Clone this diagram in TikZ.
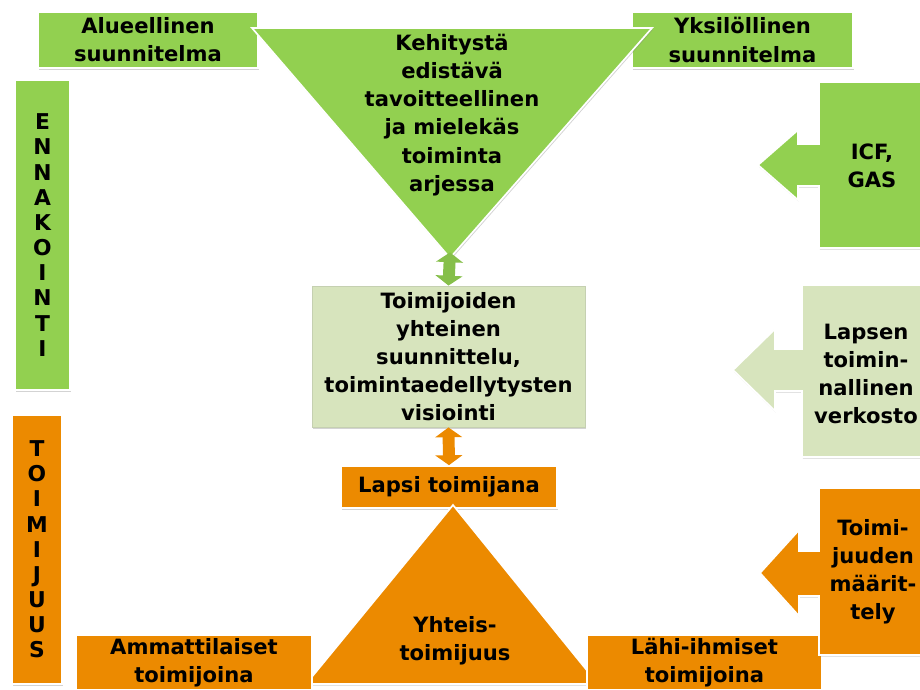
\documentclass[tikz,border=0pt]{standalone}
\usepackage{fontspec}
\setmainfont{DejaVu Sans}
\usetikzlibrary{arrows.meta,shadows}

\definecolor{ennagreen}{RGB}{146,208,80}
\definecolor{palegreen}{RGB}{215,228,189}
\definecolor{toimorange}{RGB}{236,138,0}

\tikzset{
  txt/.style={font=\bfseries\fontsize{15}{20}\selectfont, align=center, text=black},
  box/.style={txt, draw=white, line width=1.2pt, inner sep=0pt,
    drop shadow={shadow xshift=0.6pt, shadow yshift=-1.2pt, opacity=0.35}},
  letters/.style={font=\bfseries\fontsize{15.5}{17.9}\selectfont},
  blockshape/.style={draw=white, line width=1.2pt,
    drop shadow={shadow xshift=0.6pt, shadow yshift=-1.2pt, opacity=0.35}},
  twoway/.style={line width=8.5pt,
    {Triangle[width=19pt,length=7pt]}-{Triangle[width=19pt,length=7pt]}},
}

\begin{document}
\begin{tikzpicture}[x=0.025cm, y=-0.025cm]
  \useasboundingbox (0,0) rectangle (920,690);
  \clip (0,0) rectangle (920,690);

  % upper half: ennakointi
  \node[box, fill=ennagreen, minimum width=5.5cm, minimum height=1.4cm] (alue) at (148,40) {Alueellinen\\suunnitelma};
  \node[box, fill=ennagreen, minimum width=5.525cm, minimum height=1.4cm] (yksi) at (742.5,40) {Yksilöllinen\\suunnitelma};
  \node[box, fill=ennagreen, minimum width=1.375cm, minimum height=7.75cm, letters] (ennak) at (42.5,235) {E\\N\\N\\A\\K\\O\\I\\N\\T\\I};

  \coordinate (gleft) at (252,28);
  \coordinate (gright) at (652,28);
  \coordinate (gapex) at (450,258);
  \fill[blockshape, fill=ennagreen] (gleft) -- (gright) -- (gapex) -- cycle;
  \node[txt] (goal) at (452,115) {Kehitystä\\edistävä\\tavoitteellinen\\ja mielekäs\\toiminta\\arjessa};

  \node[box, fill=palegreen, draw=palegreen!80!gray, line width=0.6pt, minimum width=6.825cm, minimum height=3.525cm] (plan) at (448.5,356.5) {Toimijoiden\\yhteinen\\suunnittelu,\\toimintaedellytysten\\visiointi};

  \fill[blockshape, fill=ennagreen] (819,82) -- (925,82) -- (925,248) -- (819,248) -- (819,186) -- (798,186) -- (798,200) -- (758,165) -- (798,130) -- (798,144) -- (819,144) -- cycle;
  \node[txt] (icf) at (872,166) {ICF,\\GAS};

  \fill[blockshape, fill=palegreen] (802,285) -- (925,285) -- (925,457) -- (802,457) -- (802,391) -- (775,391) -- (775,411) -- (733,370) -- (775,329) -- (775,349) -- (802,349) -- cycle;
  \node[txt] (verkosto) at (866,374) {Lapsen\\toimin-\\nallinen\\verkosto};

  % lower half: toimijuus
  \node[box, fill=toimorange, minimum width=1.25cm, minimum height=6.725cm, letters] (toimij) at (37,549.5) {T\\O\\I\\M\\I\\J\\U\\U\\S};

  \node[box, fill=toimorange, minimum width=5.4cm, minimum height=1.05cm] (lapsi) at (449,487) {Lapsi toimijana};

  \coordinate (oapex) at (453,505);
  \coordinate (oleft) at (306,684);
  \coordinate (oright) at (598,684);
  \fill[blockshape, fill=toimorange] (oapex) -- (oright) -- (oleft) -- cycle;
  \node[txt] (yhteis) at (455,641) {Yhteis-\\toimijuus};

  \node[box, fill=toimorange, minimum width=5.9cm, minimum height=1.375cm] (ammat) at (194,662.5) {Ammattilaiset\\toimijoina};
  \node[box, fill=toimorange, minimum width=5.875cm, minimum height=1.375cm] (lahi) at (704.5,662.5) {Lähi-ihmiset\\toimijoina};

  \fill[blockshape, fill=toimorange] (819,488) -- (925,488) -- (925,655) -- (819,655) -- (819,596) -- (799,596) -- (799,616) -- (760,573) -- (799,530) -- (799,551) -- (819,551) -- cycle;
  \node[txt] (maaritt) at (873,572) {Toimi-\\juuden\\määrit-\\tely};

  % connectors
  \draw[twoway, ennagreen!92!black] ([yshift=4pt]gapex) -- (plan.north);
  \draw[twoway, toimorange] (plan.south) -- (lapsi.north);
\end{tikzpicture}
\end{document}
